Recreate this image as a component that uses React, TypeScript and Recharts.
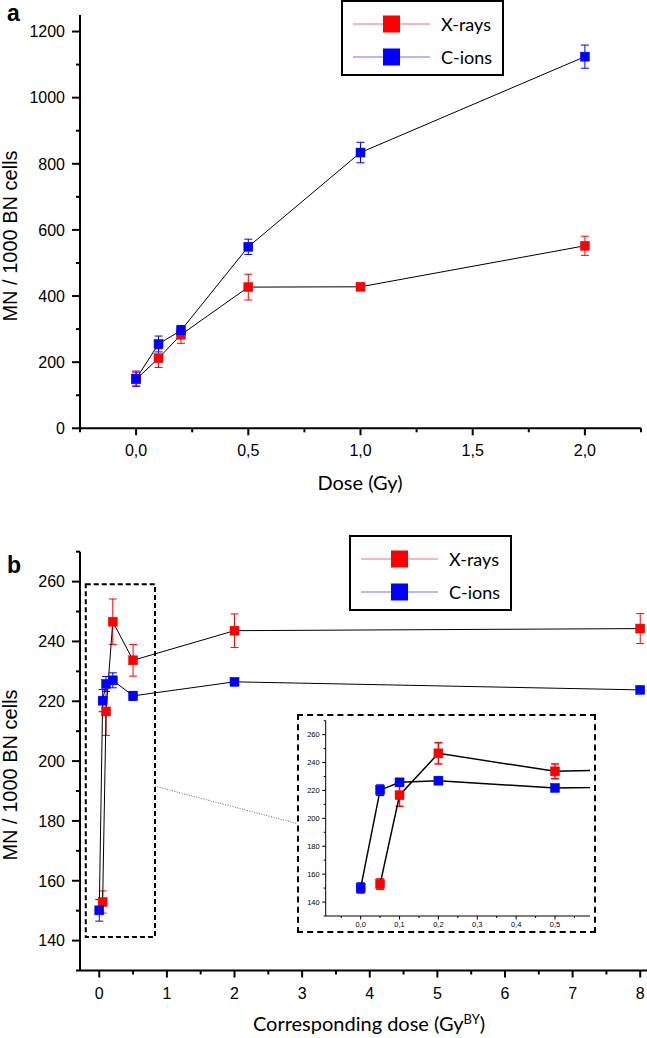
import React from "react";
import {
  ComposedChart, Line, XAxis, YAxis, ErrorBar, ReferenceArea, ReferenceLine,
} from "recharts";

// ---- panel a : MN yield vs physical dose ----
const doseA = [0, 0.1, 0.2, 0.5, 1, 2];
const xraysA = [148, 212, 283, 427, 428, 552];
const xraysAErr = [20, 28, 26, 39, 4, 29];
const cionsA = [150, 255, 296, 549, 834, 1124];
const cionsAErr = [23, 24, 15, 23, 31, 35];

// ---- panel b : MN yield vs corresponding dose (GyBY) ----
const doseBX = [0.05, 0.1, 0.2, 0.5, 2, 8];
const xraysB = [152.9, 216.6, 246.6, 233.7, 243.6, 244.3];
const xraysBErr = [3.7, 8, 7.6, 5.3, 5.6, 5];
const doseBC = [0, 0.05, 0.1, 0.2, 0.5, 2, 8];
const cionsB = [150.1, 220.2, 225.8, 227, 221.8, 226.5, 223.8];
const cionsBErr = [3.6, 3.7, 2.5, 2.5, 1.5, 0.8, 0.8];

// ticks
const aXMajor = [0, 0.5, 1, 1.5, 2];
const aXMinor = [-0.25, 0.25, 0.75, 1.25, 1.75, 2.25];
const aYMajor = [0, 200, 400, 600, 800, 1000, 1200];
const aYMinor = [100, 300, 500, 700, 900, 1100];
const bXMajor = [0, 1, 2, 3, 4, 5, 6, 7, 8];
const bXMinor = [0.5, 1.5, 2.5, 3.5, 4.5, 5.5, 6.5, 7.5];
const bYMajor = [140, 160, 180, 200, 220, 240, 260];
const bYMinor = [130, 150, 170, 190, 210, 230, 250, 270];
const insetXMajor = [0, 0.1, 0.2, 0.3, 0.4, 0.5];
const insetXMinor = [-0.05, 0.05, 0.15, 0.25, 0.35, 0.45, 0.55];

const seriesNames = ["X-rays", "C-ions"];
const RED = "#ff0000";
const BLUE = "#0000ff";
const ARIAL = "'Liberation Sans', Arial, sans-serif";
const CAL = "Lato, 'Open Sans', sans-serif";

const zip = (xs: number[], ys: number[], es: number[]) =>
  xs.map((x, i) => ({ x, y: ys[i], err: es[i] }));

const dataXA = zip(doseA, xraysA, xraysAErr);
const dataCA = zip(doseA, cionsA, cionsAErr);
const dataXB = zip(doseBX, xraysB, xraysBErr);
const dataCB = zip(doseBC, cionsB, cionsBErr);

const near = (arr: number[], v: number) => arr.some((a) => Math.abs(a - v) < 1e-6);
const commaFmt = (v: number) => v.toFixed(1).replace(".", ",");
const intFmt = (v: number) => String(v);

function xTick(major: number[], fmt: (v: number) => string, o: { fs: number; big: number; small: number; dy: number; sw: number }) {
  return (p: any) => {
    const v = p.payload.value;
    const isMajor = near(major, v);
    return (
      <g>
        <line x1={p.x} x2={p.x} y1={p.y} y2={p.y + (isMajor ? o.big : o.small)} stroke="#000" strokeWidth={o.sw} />
        {isMajor && (
          <text x={p.x} y={p.y + o.dy} textAnchor="middle" fontSize={o.fs} fontFamily={ARIAL} fill="#000">
            {fmt(v)}
          </text>
        )}
      </g>
    );
  };
}

function yTick(major: number[], o: { fs: number; big: number; small: number; gap: number; sw: number }) {
  return (p: any) => {
    const v = p.payload.value;
    const isMajor = near(major, v);
    return (
      <g>
        <line x1={p.x} x2={p.x - (isMajor ? o.big : o.small)} y1={p.y} y2={p.y} stroke="#000" strokeWidth={o.sw} />
        {isMajor && (
          <text x={p.x - o.gap} y={p.y} dy="0.36em" textAnchor="end" fontSize={o.fs} fontFamily={ARIAL} fill="#000">
            {v}
          </text>
        )}
      </g>
    );
  };
}

const square = (color: string, size: number) => (p: any) => {
  if (p.cx == null || p.cy == null) return <g key={p.key} />;
  return (
    <rect key={p.key} x={p.cx - size / 2} y={p.cy - size / 2} width={size} height={size} fill={color} stroke={color} strokeWidth={0.5} />
  );
};

function Legend({ left, top }: { left: number; top: number }) {
  const colors = [RED, BLUE];
  const light = ["#f07070", "#7070f0"];
  return (
    <div style={{ position: "absolute", left, top, width: 163, height: 76, border: "2px solid #000", boxSizing: "border-box", background: "#fff" }}>
      {seriesNames.map((name, i) => (
        <div key={name} style={{ position: "absolute", left: 0, top: 12 + i * 32.5, height: 20, width: 159 }}>
          <svg width={80} height={20} style={{ position: "absolute", left: 10, top: 0 }}>
            <line x1={0} x2={77} y1={10} y2={10} stroke={light[i]} strokeWidth={1} />
            <rect x={30} y={1.5} width={17} height={17} fill={colors[i]} />
          </svg>
          <span style={{ position: "absolute", left: 98, top: 0, lineHeight: "20px", fontSize: 18, fontFamily: CAL, color: "#000", whiteSpace: "nowrap" }}>
            {name}
          </span>
        </div>
      ))}
    </div>
  );
}

function YTitle({ cx, cy }: { cx: number; cy: number }) {
  return (
    <div style={{ position: "absolute", left: cx, top: cy, width: 0, height: 0 }}>
      <span style={{ position: "absolute", transform: "translate(-50%, -50%) rotate(-90deg)", whiteSpace: "nowrap", fontFamily: ARIAL, fontSize: 20, lineHeight: "22px", color: "#000" }}>
        MN / 1000 BN cells
      </span>
    </div>
  );
}

function Centered({ cx, cy, children, style }: any) {
  return (
    <div style={{ position: "absolute", left: cx, top: cy, width: 0, height: 0 }}>
      <span style={{ position: "absolute", transform: "translate(-50%, -50%)", whiteSpace: "nowrap", color: "#000", ...style }}>
        {children}
      </span>
    </div>
  );
}

const axisLine = { stroke: "#000", strokeWidth: 2 };

export default function App() {
  const tickOptsX = { fs: 16, big: 7, small: 4, dy: 28, sw: 2 };
  const tickOptsY = { fs: 16, big: 8, small: 4, gap: 15, sw: 2 };
  return (
    <div style={{ position: "absolute", left: 0, top: 0, width: 647, height: 1038, background: "#fff", overflow: "hidden" }}>
      {/* panel a */}
      <div style={{ position: "absolute", left: 0, top: 0 }}>
        <ComposedChart width={647} height={500} margin={{ top: 15, right: 6, bottom: 41.7, left: 0 }}>
          <XAxis type="number" dataKey="x" domain={[-0.25, 2.25]} allowDataOverflow
            ticks={[...aXMajor, ...aXMinor].sort((a, b) => a - b)} interval={0}
            tickSize={0} tickMargin={0} tickLine={false} axisLine={axisLine} height={30}
            tick={xTick(aXMajor, commaFmt, tickOptsX)} />
          <YAxis type="number" domain={[0, 1250]} allowDataOverflow
            ticks={[...aYMajor, ...aYMinor].sort((a, b) => a - b)} interval={0}
            tickSize={0} tickMargin={0} tickLine={false} axisLine={axisLine} width={80}
            tick={yTick(aYMajor, tickOptsY)} />
          <Line data={dataXA} dataKey="y" stroke="#000" strokeWidth={1} dot={square(RED, 9)} activeDot={false} isAnimationActive={false}>
            <ErrorBar dataKey="err" direction="y" stroke={RED} strokeWidth={1} width={4} isAnimationActive={false} />
          </Line>
          <Line data={dataCA} dataKey="y" stroke="#000" strokeWidth={1} dot={square(BLUE, 9)} activeDot={false} isAnimationActive={false}>
            <ErrorBar dataKey="err" direction="y" stroke={BLUE} strokeWidth={1} width={4} isAnimationActive={false} />
          </Line>
        </ComposedChart>
      </div>
      <div style={{ position: "absolute", left: 7, top: 1, fontFamily: ARIAL, fontWeight: 700, fontSize: 23, lineHeight: "24px" }}>a</div>
      <YTitle cx={10} cy={236} />
      <Centered cx={360} cy={482} style={{ fontFamily: CAL, fontSize: 20 }}>Dose (Gy)</Centered>
      <Legend left={341} top={0} />

      {/* panel b */}
      <div style={{ position: "absolute", left: 0, top: 530 }}>
        <ComposedChart width={647} height={508} margin={{ top: 21.7, right: 0, bottom: 37.5, left: 0 }}>
          <XAxis type="number" dataKey="x" domain={[-0.285, 8.1]} allowDataOverflow
            ticks={[...bXMajor, ...bXMinor].sort((a, b) => a - b)} interval={0}
            tickSize={0} tickMargin={0} tickLine={false} axisLine={axisLine} height={30}
            tick={xTick(bXMajor, intFmt, tickOptsX)} />
          <YAxis type="number" domain={[130, 270]} allowDataOverflow
            ticks={[...bYMajor, ...bYMinor].sort((a, b) => a - b)} interval={0}
            tickSize={0} tickMargin={0} tickLine={false} axisLine={axisLine} width={80}
            tick={yTick(bYMajor, tickOptsY)} />
          <ReferenceArea x1={-0.2} x2={0.824} y1={141.2} y2={259.1} fill="none" fillOpacity={0}
            stroke="#000" strokeWidth={2} strokeDasharray="5 3" ifOverflow="visible" />
          <ReferenceLine segment={[{ x: 0.824, y: 191.6 }, { x: 2.93, y: 179.1 }]}
            stroke="#666" strokeWidth={1} strokeDasharray="1 1.5" ifOverflow="visible" />
          <Line data={dataXB} dataKey="y" stroke="#000" strokeWidth={1} dot={square(RED, 9)} activeDot={false} isAnimationActive={false}>
            <ErrorBar dataKey="err" direction="y" stroke={RED} strokeWidth={1} width={4} isAnimationActive={false} />
          </Line>
          <Line data={dataCB} dataKey="y" stroke="#000" strokeWidth={1} dot={square(BLUE, 9)} activeDot={false} isAnimationActive={false}>
            <ErrorBar dataKey="err" direction="y" stroke={BLUE} strokeWidth={1} width={4} isAnimationActive={false} />
          </Line>
        </ComposedChart>
      </div>
      <div style={{ position: "absolute", left: 7, top: 553, fontFamily: ARIAL, fontWeight: 700, fontSize: 23, lineHeight: "24px" }}>b</div>
      <YTitle cx={10} cy={775} />
      <Centered cx={369} cy={1023} style={{ fontFamily: CAL, fontSize: 20 }}>
        Corresponding dose (Gy<sup style={{ fontSize: 13 }}>BY</sup>)
      </Centered>
      <Legend left={349} top={535} />

      {/* inset */}
      <div style={{ position: "absolute", left: 297, top: 714, width: 299, height: 219, background: "#fff" }}>
        <ComposedChart width={299} height={219} margin={{ top: 6.7, right: 6, bottom: 0, left: 0 }}>
          <XAxis type="number" dataKey="x" domain={[-0.09, 0.59]} allowDataOverflow
            ticks={[...insetXMajor, ...insetXMinor].sort((a, b) => a - b)} interval={0}
            tickSize={0} tickMargin={0} tickLine={false} axisLine={{ stroke: "#000", strokeWidth: 1 }} height={17}
            tick={xTick(insetXMajor, commaFmt, { fs: 7.5, big: 3.5, small: 2, dy: 11, sw: 1 })} />
          <YAxis type="number" domain={[130, 270]} allowDataOverflow
            ticks={[...bYMajor, ...bYMinor].sort((a, b) => a - b)} interval={0}
            tickSize={0} tickMargin={0} tickLine={false} axisLine={{ stroke: "#000", strokeWidth: 1 }} width={28.7}
            tick={yTick(bYMajor, { fs: 7.5, big: 3.5, small: 2, gap: 6, sw: 1 })} />
          <Line data={dataXB} dataKey="y" stroke="#000" strokeWidth={1.5} dot={square(RED, 9)} activeDot={false} isAnimationActive={false}>
            <ErrorBar dataKey="err" direction="y" stroke={RED} strokeWidth={1.5} width={4} isAnimationActive={false} />
          </Line>
          <Line data={dataCB} dataKey="y" stroke="#000" strokeWidth={1.5} dot={square(BLUE, 9)} activeDot={false} isAnimationActive={false}>
            <ErrorBar dataKey="err" direction="y" stroke={BLUE} strokeWidth={1.5} width={4} isAnimationActive={false} />
          </Line>
        </ComposedChart>
      </div>
      <div style={{ position: "absolute", left: 297, top: 714, width: 299, height: 219, border: "2px dashed #000", boxSizing: "border-box", pointerEvents: "none" }} />
    </div>
  );
}
